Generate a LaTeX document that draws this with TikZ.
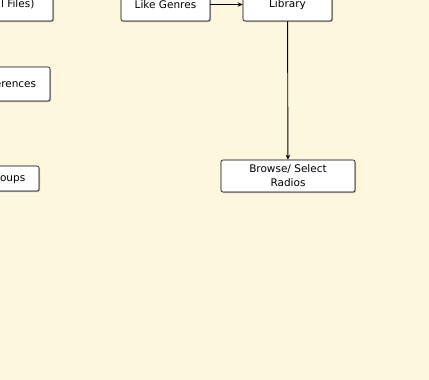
\documentclass[tikz,border=0pt]{standalone}
\usepackage{fontspec}
\setmainfont{DejaVu Sans}
\usetikzlibrary{shadows,arrows.meta}
\definecolor{paper}{RGB}{253,247,222}
\begin{document}
\begin{tikzpicture}[x=1pt, y=-1pt, >={Stealth[length=5pt,width=4.5pt]},
    box/.style={draw, fill=white, rounded corners=2pt, line width=0.6pt,
        align=center, inner sep=0pt, font=\fontsize{10.5}{14}\selectfont,
        drop shadow={shadow xshift=1pt, shadow yshift=-1pt, opacity=0.5}}]
    % background
    \fill[paper] (0,0) rectangle (429,380);
    \useasboundingbox (0,0) rectangle (429,380);

    % top row (cut off at the page edge)
    \node[box, minimum width=110, minimum height=33] (play) at (-2,4.5) {Play (All Files)};
    \node[box, minimum width=89, minimum height=33] (genres) at (165.5,4.5) {Like Genres};
    \node[box, minimum width=89, minimum height=33] (library) at (287.5,4.5) {Library};

    % left column
    \node[box, minimum width=110, minimum height=34] (prefs) at (-5,84) {Set Preferences};
    \node[box, minimum width=110, minimum height=25] (groups) at (-16,178.5) {Manage Groups};

    % browse
    \node[box, minimum width=134, minimum height=32] (browse) at (288,176) {Browse/ Select\\Radios};

    % connectors
    \draw[->, line width=0.9pt] (genres) -- (library);
    \draw[->, line width=0.9pt] (library) -- (browse);
\end{tikzpicture}
\end{document}
